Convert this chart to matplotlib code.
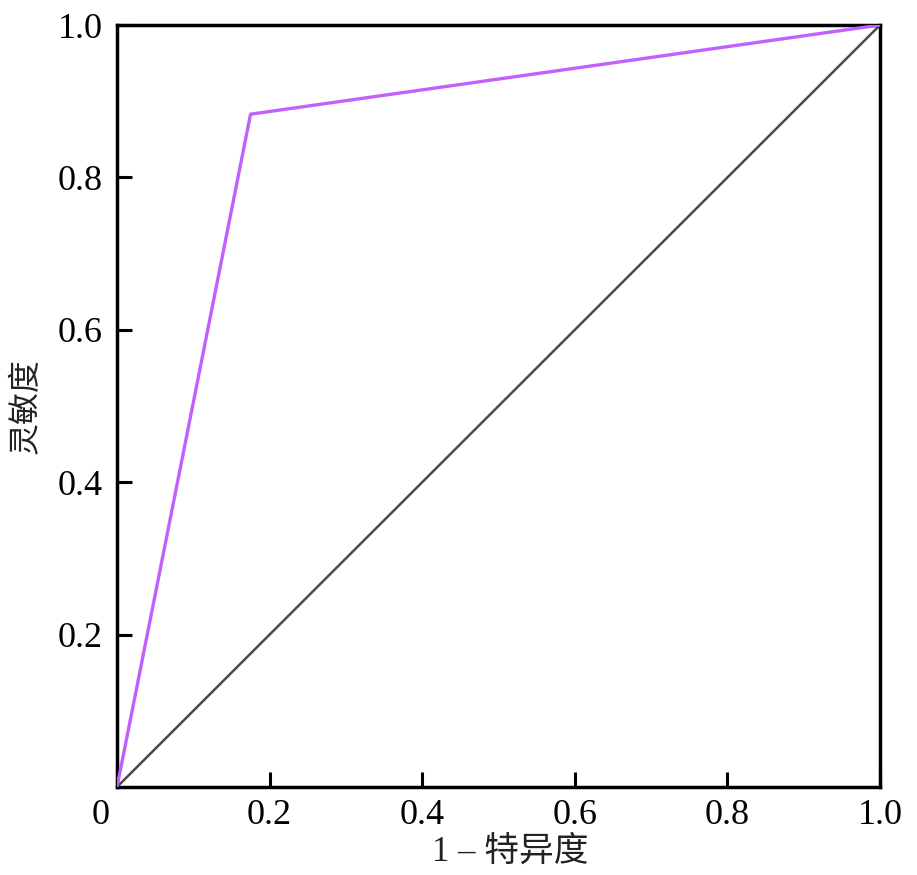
import matplotlib
matplotlib.use("Agg")
import matplotlib.pyplot as plt

# Data
roc_fpr = [0.0, 0.175, 1.0]
roc_tpr = [0.0, 0.883, 1.0]
diag_x = [0.0, 1.0]
diag_y = [0.0, 1.0]
x_ticks = [0, 0.2, 0.4, 0.6, 0.8, 1.0]
x_ticklabels = ["0", "0.2", "0.4", "0.6", "0.8", "1.0"]
y_ticks = [0.2, 0.4, 0.6, 0.8, 1.0]
y_ticklabels = ["0.2", "0.4", "0.6", "0.8", "1.0"]
x_label = "1 – 特异度"
y_label = "灵敏度"

fam = ["Liberation Serif", "Noto Sans CJK SC", "DejaVu Sans"]
plt.rcParams['font.family'] = fam

fig = plt.figure(figsize=(9.17, 8.75), dpi=100)
ax = fig.add_axes([0.1276, 0.1006, 0.8321, 0.8708])

ax.plot(diag_x, diag_y, color="#4a4a4a", lw=1.8, zorder=2)
ax.plot(roc_fpr, roc_tpr, color="#c060ff", lw=2.4, zorder=3)

ax.set_xlim(0, 1)
ax.set_ylim(0, 1)
ax.set_xticks(x_ticks)
ax.set_xticklabels([""] + x_ticklabels[1:])
ax.set_yticks(y_ticks)
ax.set_yticklabels(y_ticklabels)
ax.tick_params(direction="in", length=11, width=2.2, labelsize=26, pad=10, colors="black")
ax.tick_params(axis="x", pad=9)
for lab in ax.get_xticklabels() + ax.get_yticklabels():
    lab.set_family(fam)
# origin label "0" drawn slightly left of the corner, as in the reference
ax.annotate(x_ticklabels[0], xy=(x_ticks[0], 0), xycoords="data",
            xytext=(-12, -9), textcoords="offset points",
            ha="center", va="top", fontsize=26, family=fam)
for s in ax.spines.values():
    s.set_linewidth(2.5)
    s.set_color("black")

ax.set_xlabel(x_label, fontsize=25, family=fam, color="#222222")
ax.xaxis.set_label_coords(0.515, -0.064)
ax.set_ylabel(y_label, fontsize=23, family=fam, labelpad=12, color="#222222")

fig.savefig("out.png", dpi=100)
